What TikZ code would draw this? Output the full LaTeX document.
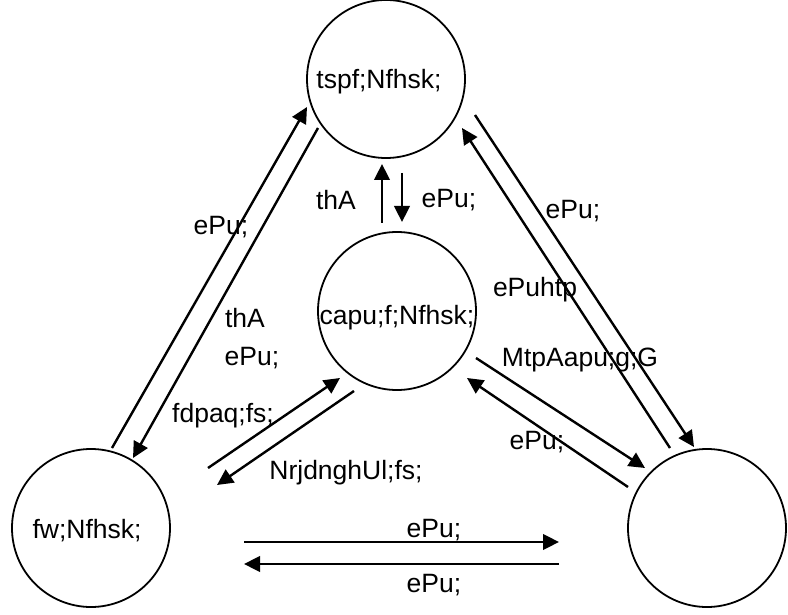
\documentclass[tikz,border=0pt]{standalone}
\usepackage{fontspec}
\setmainfont{Liberation Sans}
\usetikzlibrary{arrows.meta}
\tikzset{
  state/.style={circle,draw,line width=1.8pt,minimum size=158pt,inner sep=0pt},
  lbl/.style={inner sep=0pt,anchor=center,font=\fontsize{26.5}{31}\selectfont},
  flow/.style={line width=2.4pt,-{Triangle[length=16pt,width=15.5pt]}},
}
\begin{document}
\begin{tikzpicture}[x=1pt,y=-1pt]
\useasboundingbox (0,0) rectangle (788,615);
% states
\node[state] (top) at (386,79) {};
\node[state] (mid) at (397,311) {};
\node[state] (lft) at (91,528) {};
\node[state] (rgt) at (707,528) {};
\node[lbl] (ttop) at (379,82) {tspf;Nfhsk;};
\node[lbl] (tmid) at (397,318) {capu;f;Nfhsk;};
\node[lbl] (tlft) at (87,531) {fw;Nfhsk;};
% connector end points
\coordinate (a1s) at (112,448);  \coordinate (a1e) at (307,107);
\coordinate (a2s) at (318,128);  \coordinate (a2e) at (133,458);
\coordinate (a3s) at (208,468);  \coordinate (a3e) at (340,378);
\coordinate (a4s) at (354,391);  \coordinate (a4e) at (217,485);
\coordinate (a5s) at (475,115);  \coordinate (a5e) at (694,447);
\coordinate (a6s) at (670,448);  \coordinate (a6e) at (462,128);
\coordinate (a7s) at (476,358);  \coordinate (a7e) at (645,468);
\coordinate (a8s) at (628,487);  \coordinate (a8e) at (467,378);
\coordinate (v1s) at (382,223);  \coordinate (v1e) at (382,164);
\coordinate (v2s) at (402,173);  \coordinate (v2e) at (402,222);
\coordinate (h1s) at (244,542);  \coordinate (h1e) at (559,542);
\coordinate (h2s) at (559,564);  \coordinate (h2e) at (244,564);
% transitions
\draw[flow] (a1s) -- (a1e);
\draw[flow] (a2s) -- (a2e);
\draw[flow] (a3s) -- (a3e);
\draw[flow] (a4s) -- (a4e);
\draw[flow] (a5s) -- (a5e);
\draw[flow] (a6s) -- (a6e);
\draw[flow] (a7s) -- (a7e);
\draw[flow] (a8s) -- (a8e);
\draw[flow] (v1s) -- (v1e);
\draw[flow] (v2s) -- (v2e);
\draw[flow] (h1s) -- (h1e);
\draw[flow] (h2s) -- (h2e);
% transition labels
\node[lbl] (l1) at (221,227) {ePu;};
\node[lbl] (l2) at (245,318) {thA};
\node[lbl] (l3) at (252,358) {ePu;};
\node[lbl] (l4) at (223,416) {fdpaq;fs;};
\node[lbl] (l5) at (346,473) {NrjdnghUl;fs;};
\node[lbl] (l6) at (336,200) {thA};
\node[lbl] (l7) at (449,200) {ePu;};
\node[lbl] (l8) at (573,211) {ePu;};
\node[lbl] (l9) at (535,290) {ePuhtp};
\node[lbl] (l10) at (580,360) {MtpAapu;g;G};
\node[lbl] (l11) at (537,442) {ePu;};
\node[lbl] (l12) at (434,530) {ePu;};
\node[lbl] (l13) at (434,585) {ePu;};
\end{tikzpicture}
\end{document}
